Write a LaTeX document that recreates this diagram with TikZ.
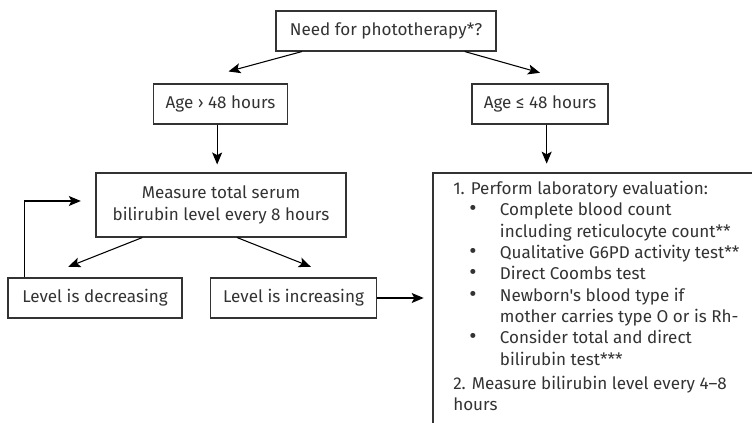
\documentclass[tikz,border=0pt]{standalone}
\usepackage{fontspec}
\setmainfont{Fira Sans}[Ligatures=TeXOff]
\usetikzlibrary{arrows.meta}
\definecolor{ink}{HTML}{333333}
\newcommand{\evbullet}{\hspace*{12pt}\makebox[23pt][l]{\scalebox{1.3}{\textbullet}}}

\begin{document}
\begin{tikzpicture}[x=0.75pt, y=-0.75pt, font=\fontsize{12.8}{16}\selectfont, text=ink,
  box/.style={draw=ink, line width=0.8pt, inner sep=0pt, align=center},
  arr/.style={draw=black, line width=0.8pt, -{Stealth[length=9pt,width=7.5pt,inset=2pt]}}]

  \clip (0,0) rectangle (752,423);

  % ---- question and the age split ----
  \node[box, minimum width=165pt, minimum height=30pt] (need) at (386,31) {Need for phototherapy*?};
  \node[box, minimum width=101pt, minimum height=30pt] (ageover) at (220.5,104) {Age \char"203A{} 48 hours};
  \node[box, minimum width=102pt, minimum height=30pt] (ageunder) at (540,104) {Age \char"2264{} 48 hours};

  % ---- left branch ----
  \node[box, minimum width=187.5pt, minimum height=48pt] (measure) at (221,205)
    {Measure total serum\\bilirubin level every 8 hours};
  \node[box, minimum width=130.5pt, minimum height=30pt] (decr) at (95,298) {Level is decreasing};
  \node[box, minimum width=124pt, minimum height=30pt] (incr) at (293.5,298) {Level is increasing};

  % ---- right branch (box runs off the page) ----
  \node[anchor=north west, inner sep=0pt, minimum width=300pt, minimum height=220pt] (eval) at (433,173) {};
  \node[anchor=north west, inner sep=0pt, align=left] (evaltext) at (453,181) {%
    1. Perform laboratory evaluation:\\
    \evbullet Complete blood count\\
    \hspace*{35pt}including reticulocyte count**\\
    \evbullet Qualitative G6PD activity test**\\
    \evbullet Direct Coombs test\\
    \evbullet Newborn's blood type if\\
    \hspace*{35pt}mother carries type O or is Rh-\\
    \evbullet Consider total and direct\\
    \hspace*{35pt}bilirubin test***\\[2pt]
    2. Measure bilirubin level every 4–8\\
    hours};
  \draw[draw=ink, line width=0.8pt] (eval.south west) -- (eval.north west) -- (eval.north east);

  % Connectors
  \draw[arr] ([xshift=-63pt]need.south) -- ([xshift=6pt,yshift=9pt]ageover.north);
  \draw[arr] ([xshift=59pt]need.south) -- ([yshift=8pt]ageunder.north);
  \draw[arr, shorten >=6pt] ([xshift=-2.5pt]ageover.south) -- ([xshift=-2.5pt]ageover.south |- measure.north);
  \draw[arr, shorten >=7pt] ([xshift=5pt]ageunder.south) -- ([xshift=5pt]ageunder.south |- eval.north);
  \draw[arr] ([xshift=-59pt]measure.south) -- ([xshift=-20pt,yshift=8pt]decr.north);
  \draw[arr] ([xshift=12pt]measure.south) -- ([xshift=13pt,yshift=8pt]incr.north);
  \draw[arr] ([xshift=12.75pt]decr.north west) |- ([xshift=-11pt,yshift=3pt]measure.west);
  \draw[arr, shorten >=7pt] (incr.east) -- (incr.east -| eval.west);

\end{tikzpicture}
\end{document}
